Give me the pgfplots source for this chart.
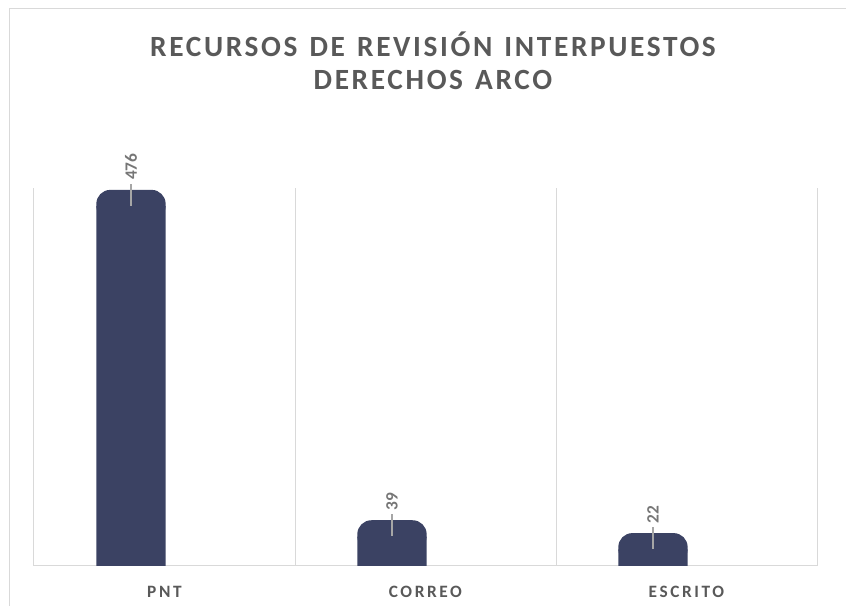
\documentclass[border=0pt]{standalone}
\usepackage{fontspec}
\setmainfont{Carlito}
\newfontfamily\titlefont[LetterSpace=9,WordSpace=1.3]{Carlito}
\newfontfamily\tickfont[LetterSpace=15]{Carlito}
\usepackage{pgfplots}
\usepackage{pgfplotstable}
\pgfplotsset{compat=1.18}

\definecolor{barnavy}{RGB}{59,66,99}
\definecolor{gridgray}{RGB}{217,217,217}
\definecolor{txtgray}{RGB}{89,89,89}
\definecolor{lblgray}{RGB}{118,118,118}
\definecolor{leadgray}{RGB}{166,166,166}

\pgfplotstableread{
x y
0 476
1 39
2 22
}\recursos

\begin{document}
\begin{tikzpicture}
\useasboundingbox (-25.5pt,-30pt) rectangle (609pt,424.5pt);
\draw[gridgray, line width=0.75pt] (-18.75pt,-30pt) -- (-18.75pt,417.75pt) -- (609pt,417.75pt);

\begin{axis}[
  at={(0,0)}, anchor=south west,
  scale only axis, width=587.25pt, height=283.5pt,
  xmin=-0.3716, xmax=2.6284, ymin=0, ymax=500,
  axis y line=none, axis x line*=bottom,
  x axis line style={draw=gridgray, line width=0.75pt, -},
  xtick={0.128,1.128,2.128},
  xticklabels={PNT,CORREO,ESCRITO},
  major tick length=0pt,
  xticklabel style={anchor=base, yshift=-24pt, text=txtgray,
    font=\tickfont\bfseries\fontsize{13}{15}\selectfont},
  extra x ticks={-0.3716,0.6284,1.6284,2.6284},
  extra x tick labels={},
  extra x tick style={grid=major, major grid style={draw=gridgray, line width=0.75pt}},
  ytick=\empty,
  /pgf/number format/assume math mode=true,
]
  % bars
  \addplot[ybar, bar width=52pt, fill=barnavy, draw=none] table[x=x,y=y]{\recursos};
  % rounded tops
  \addplot[draw=none, mark=none,
    nodes near coords={\relax},
    every node near coord/.style={anchor=south, yshift=-10.5pt, fill=barnavy,
      draw=none, rounded corners=10.5pt, inner sep=0pt,
      minimum width=52pt, minimum height=22.5pt}]
    table[x=x,y=y]{\recursos};
  % leader lines
  \addplot[draw=none, mark=none,
    nodes near coords={\relax},
    every node near coord/.style={anchor=south, fill=leadgray, draw=none,
      inner sep=0pt, minimum width=1.5pt, minimum height=16.5pt}]
    table[x=x,y=y]{\recursos};
  % values
  \addplot[draw=none, mark=none,
    nodes near coords={\hspace*{19.5pt}\pgfmathprintnumber{\pgfplotspointmeta}},
    every node near coord/.style={anchor=west, rotate=90, inner sep=0pt,
      text=lblgray, font=\bfseries\fontsize{13}{15}\selectfont}]
    table[x=x,y=y]{\recursos};
\end{axis}

\node[anchor=base, text=txtgray, font=\titlefont\bfseries\fontsize{22}{26}\selectfont]
  at (299.25pt,381.75pt) {RECURSOS DE REVISIÓN INTERPUESTOS};
\node[anchor=base, text=txtgray, font=\titlefont\bfseries\fontsize{22}{26}\selectfont]
  at (299.25pt,357pt) {DERECHOS ARCO};
\end{tikzpicture}
\end{document}
